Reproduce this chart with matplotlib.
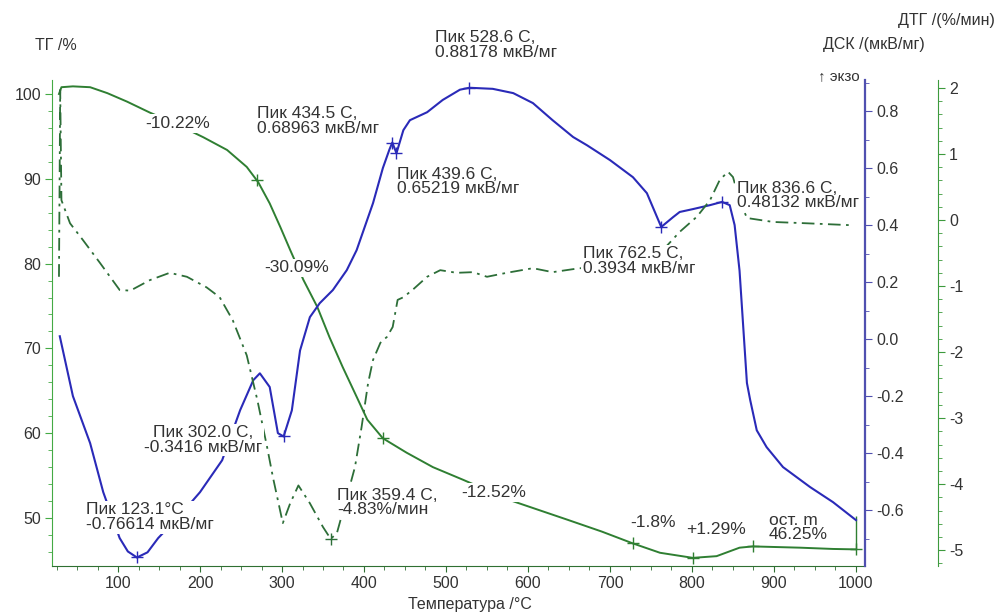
import numpy as np
import matplotlib
matplotlib.use("Agg")
import matplotlib.pyplot as plt
from matplotlib.ticker import MultipleLocator, FormatStrFormatter

# ТГ, %
tg_t = [28, 31, 45, 66, 87, 111, 139, 170, 204, 233, 257, 271, 285, 298, 310,
        326, 343, 358, 374, 391, 404, 423, 452, 484, 521, 578, 648, 690, 728,
        761, 801, 830, 858, 874, 932, 972, 1000]
tg_v = [100.0, 100.8, 100.9, 100.8, 100.1, 99.1, 97.8, 96.5, 94.9, 93.4, 91.4,
        89.6, 87.1, 84.3, 81.6, 78.1, 74.9, 71.3, 67.8, 64.3, 61.6, 59.4, 57.7,
        56.0, 54.5, 52.1, 49.8, 48.4, 47.0, 45.9, 45.3, 45.5, 46.5, 46.65, 46.5,
        46.35, 46.3]

# ДСК, мкВ/мг
dsc_t = [29, 45, 66, 82, 102, 112, 123.1, 136, 149, 175, 200, 227, 249, 265,
         273, 285, 295, 302.0, 312, 322, 334, 346, 362, 379, 391, 411, 423, 431,
         434.5, 439.6, 448, 456, 477, 496, 517, 528.6, 557, 582, 606, 630, 655,
         672, 700, 728, 745, 762.5, 777, 785, 801, 822, 836.6, 846, 852, 858,
         867, 871, 879, 891, 911, 944, 972, 1000]
dsc_v = [0.01, -0.20, -0.365, -0.537, -0.698, -0.745, -0.76614, -0.748, -0.698,
         -0.62, -0.537, -0.425, -0.249, -0.144, -0.12, -0.168, -0.33, -0.3416,
         -0.25, -0.04, 0.077, 0.126, 0.172, 0.242, 0.312, 0.477, 0.60, 0.665,
         0.68963, 0.65219, 0.733, 0.768, 0.796, 0.839, 0.875, 0.88178, 0.878,
         0.863, 0.828, 0.768, 0.709, 0.68, 0.628, 0.568, 0.512, 0.3934, 0.428,
         0.446, 0.456, 0.47, 0.48132, 0.47, 0.40, 0.24, -0.154, -0.214, -0.32,
         -0.379, -0.449, -0.519, -0.572, -0.635]

# ДТГ, %/мин
dtg_t = [28, 29.5, 31, 41.5, 57, 78, 102, 115, 139, 163, 184, 208, 224, 240,
         257, 270, 282, 289, 301, 310, 320, 334, 350, 359.4, 367, 379, 389, 397,
         405, 411, 420, 428, 435, 441, 448, 460, 477, 493, 513, 533, 550, 574,
         606, 630, 663, 700, 740, 765, 785, 806, 822, 834, 844, 850, 858, 867,
         899, 940, 996]
dtg_v = [-0.86, 1.97, 0.30, -0.05, -0.30, -0.65, -1.06, -1.07, -0.91, -0.80,
         -0.86, -1.02, -1.17, -1.52, -2.05, -2.73, -3.45, -3.9, -4.59, -4.29,
         -4.02, -4.29, -4.65, -4.83, -4.74, -4.2, -3.74, -3.14, -2.47, -2.12,
         -1.86, -1.77, -1.62, -1.21, -1.17, -1.05, -0.86, -0.76, -0.80, -0.79,
         -0.86, -0.80, -0.73, -0.79, -0.73, -0.74, -0.65, -0.45, -0.18, 0.05,
         0.30, 0.61, 0.73, 0.65, 0.30, 0.03, -0.03, -0.05, -0.08]

# ступени потери массы
step_t = [270, 423, 728, 801, 874, 1000]
step_v = [89.8, 59.4, 47.0, 45.3, 46.65, 46.3]
step_labels = ["-10.22%", "-30.09%", "-12.52%", "-1.8%", "+1.29%"]
residue = 46.25

# пики ДСК и ДТГ
dsc_peak_t = [123.1, 302.0, 434.5, 439.6, 528.6, 762.5, 836.6]
dsc_peak_v = [-0.76614, -0.3416, 0.68963, 0.65219, 0.88178, 0.3934, 0.48132]
dtg_peak_t = [359.4]
dtg_peak_v = [-4.83]

tg_color = "#2f7f32"
dtg_color = "#2d6e38"
dsc_color = "#2a2ab8"
text_color = "#333333"


def main():
    plt.rcParams["font.family"] = ["Liberation Sans", "DejaVu Sans"]
    plt.rcParams["axes.unicode_minus"] = False

    fig = plt.figure(figsize=(9.97, 6.13), dpi=100)
    ax = fig.add_axes([52 / 997, 47 / 613, 813 / 997, 486 / 613])
    dsc = ax.twinx()
    dtg = ax.twinx()

    ax.set_xlim(19.5, 1011)
    ax.set_ylim(44.34, 101.65)
    dsc.set_ylim(-0.796, 0.909)
    dtg.set_ylim(-5.24, 2.12)

    # кривые
    ax.plot(tg_t, tg_v, color=tg_color, lw=1.4)
    dsc.plot(dsc_t, dsc_v, color=dsc_color, lw=1.5)
    dtg.plot(dtg_t, dtg_v, color=dtg_color, lw=1.3, dashes=(7, 3, 1.5, 3))

    ax.plot(step_t, step_v, "+", color=tg_color, ms=8, mew=1.0)
    ax.vlines(1000, 46.3, 50.2, color=tg_color, lw=1.0)
    dsc.plot(dsc_peak_t, dsc_peak_v, "+", color=dsc_color, ms=8, mew=1.0)
    dtg.plot(dtg_peak_t, dtg_peak_v, "+", color=dtg_color, ms=8, mew=1.0)

    # оси
    for a in (ax, dsc, dtg):
        a.spines["top"].set_visible(False)
    ax.spines["right"].set_visible(False)
    ax.spines["left"].set_color("#44aa44")
    ax.spines["bottom"].set_color("#2f6f32")
    for a in (dsc, dtg):
        a.spines["left"].set_visible(False)
        a.spines["bottom"].set_visible(False)
    dsc.spines["right"].set_color("#5050b0")
    dsc.spines["right"].set_linewidth(1.6)
    dtg.spines["right"].set_color("#3d9a3d")
    dtg.spines["right"].set_position(("outward", 73 * 0.72))

    ax.xaxis.set_major_locator(MultipleLocator(100))
    ax.xaxis.set_minor_locator(MultipleLocator(25))
    ax.yaxis.set_major_locator(MultipleLocator(10))
    ax.yaxis.set_minor_locator(MultipleLocator(2))
    dsc.yaxis.set_major_locator(MultipleLocator(0.2))
    dsc.yaxis.set_minor_locator(MultipleLocator(0.1))
    dsc.yaxis.set_major_formatter(FormatStrFormatter("%.1f"))
    dtg.yaxis.set_major_locator(MultipleLocator(1))
    dtg.yaxis.set_minor_locator(MultipleLocator(0.2))

    ax.tick_params(axis="x", which="both", direction="out", colors="#2f6f32",
                   labelcolor=text_color, labelsize=11.5, pad=3)
    ax.tick_params(axis="x", which="major", length=4)
    ax.tick_params(axis="x", which="minor", length=3)
    ax.tick_params(axis="y", which="both", colors="#44aa44",
                   labelcolor=text_color, labelsize=11.5, pad=3)
    ax.tick_params(axis="y", which="major", length=5)
    ax.tick_params(axis="y", which="minor", length=3)
    dsc.tick_params(axis="y", which="both", colors="#5050b0",
                    labelcolor=text_color, labelsize=11.5, pad=3)
    dsc.tick_params(axis="y", which="major", length=5)
    dsc.tick_params(axis="y", which="minor", length=3)
    dtg.tick_params(axis="y", which="both", colors="#3d9a3d",
                    labelcolor=text_color, labelsize=11.5, pad=3)
    dtg.tick_params(axis="y", which="major", length=5)
    dtg.tick_params(axis="y", which="minor", length=3)

    # подписи
    box = dict(boxstyle="square,pad=0.1", fc="white", ec="none")
    kw = dict(transform=ax.transData, fontsize=12.5, color=text_color,
              bbox=box, zorder=10, clip_on=False, linespacing=0.95)

    def note(x, y, s, ha="left", va="center"):
        dtg.text(x, y, s, ha=ha, va=va, multialignment=ha, **kw)

    note(486.6, 105.8, "Пик %.1f С,\n%.5f мкВ/мг" % (dsc_peak_t[4], dsc_peak_v[4]))
    note(269.5, 96.8, "Пик %.1f С,\n%.5f мкВ/мг" % (dsc_peak_t[2], dsc_peak_v[2]))
    note(440.0, 89.7, "Пик %.1f С,\n%.5f мкВ/мг" % (dsc_peak_t[3], dsc_peak_v[3]))
    note(667.0, 80.3, "Пик %.1f С,\n%.4f мкВ/мг" % (dsc_peak_t[5], dsc_peak_v[5]))
    note(855.0, 88.0, "Пик %.1f С,\n%.5f мкВ/мг" % (dsc_peak_t[6], dsc_peak_v[6]))
    note(203.5, 59.2, "Пик %.1f С,\n%.4f мкВ/мг" % (dsc_peak_t[1], dsc_peak_v[1]),
         ha="center")
    note(61.0, 50.1, "Пик %.1f°C\n%.5f мкВ/мг" % (dsc_peak_t[0], dsc_peak_v[0]))
    note(367.0, 51.8, "Пик %.1f С,\n%.2f%%/мин" % (dtg_peak_t[0], dtg_peak_v[0]))

    note(173.0, 96.5, step_labels[0], ha="center")
    note(318.0, 79.5, step_labels[1], ha="center")
    note(558.5, 53.0, step_labels[2], ha="center")
    note(752.0, 49.5, step_labels[3], ha="center")
    note(829.0, 48.6, step_labels[4], ha="center")
    note(894.0, 48.9, "ост. m\n%.2f%%" % residue)

    fig.text(35 / 997, 1 - 45 / 613, "ТГ /%", fontsize=11.5, color=text_color,
             va="center")
    fig.text(925 / 997, 1 - 45 / 613, "ДСК /(мкВ/мг)", fontsize=11.5,
             color=text_color, va="center", ha="right")
    fig.text(995 / 997, 1 - 20 / 613, "ДТГ /(%/мин)", fontsize=11.5,
             color=text_color, va="center", ha="right")
    fig.text(860 / 997, 1 - 76 / 613, "↑ экзо", fontsize=11,
             color=text_color, va="center", ha="right")
    fig.text(470 / 997, 1 - 604 / 613, "Температура /°C", fontsize=11.5,
             color=text_color, va="center", ha="center")

    fig.savefig("out.png", dpi=100)


if __name__ == '__main__':
    main()
